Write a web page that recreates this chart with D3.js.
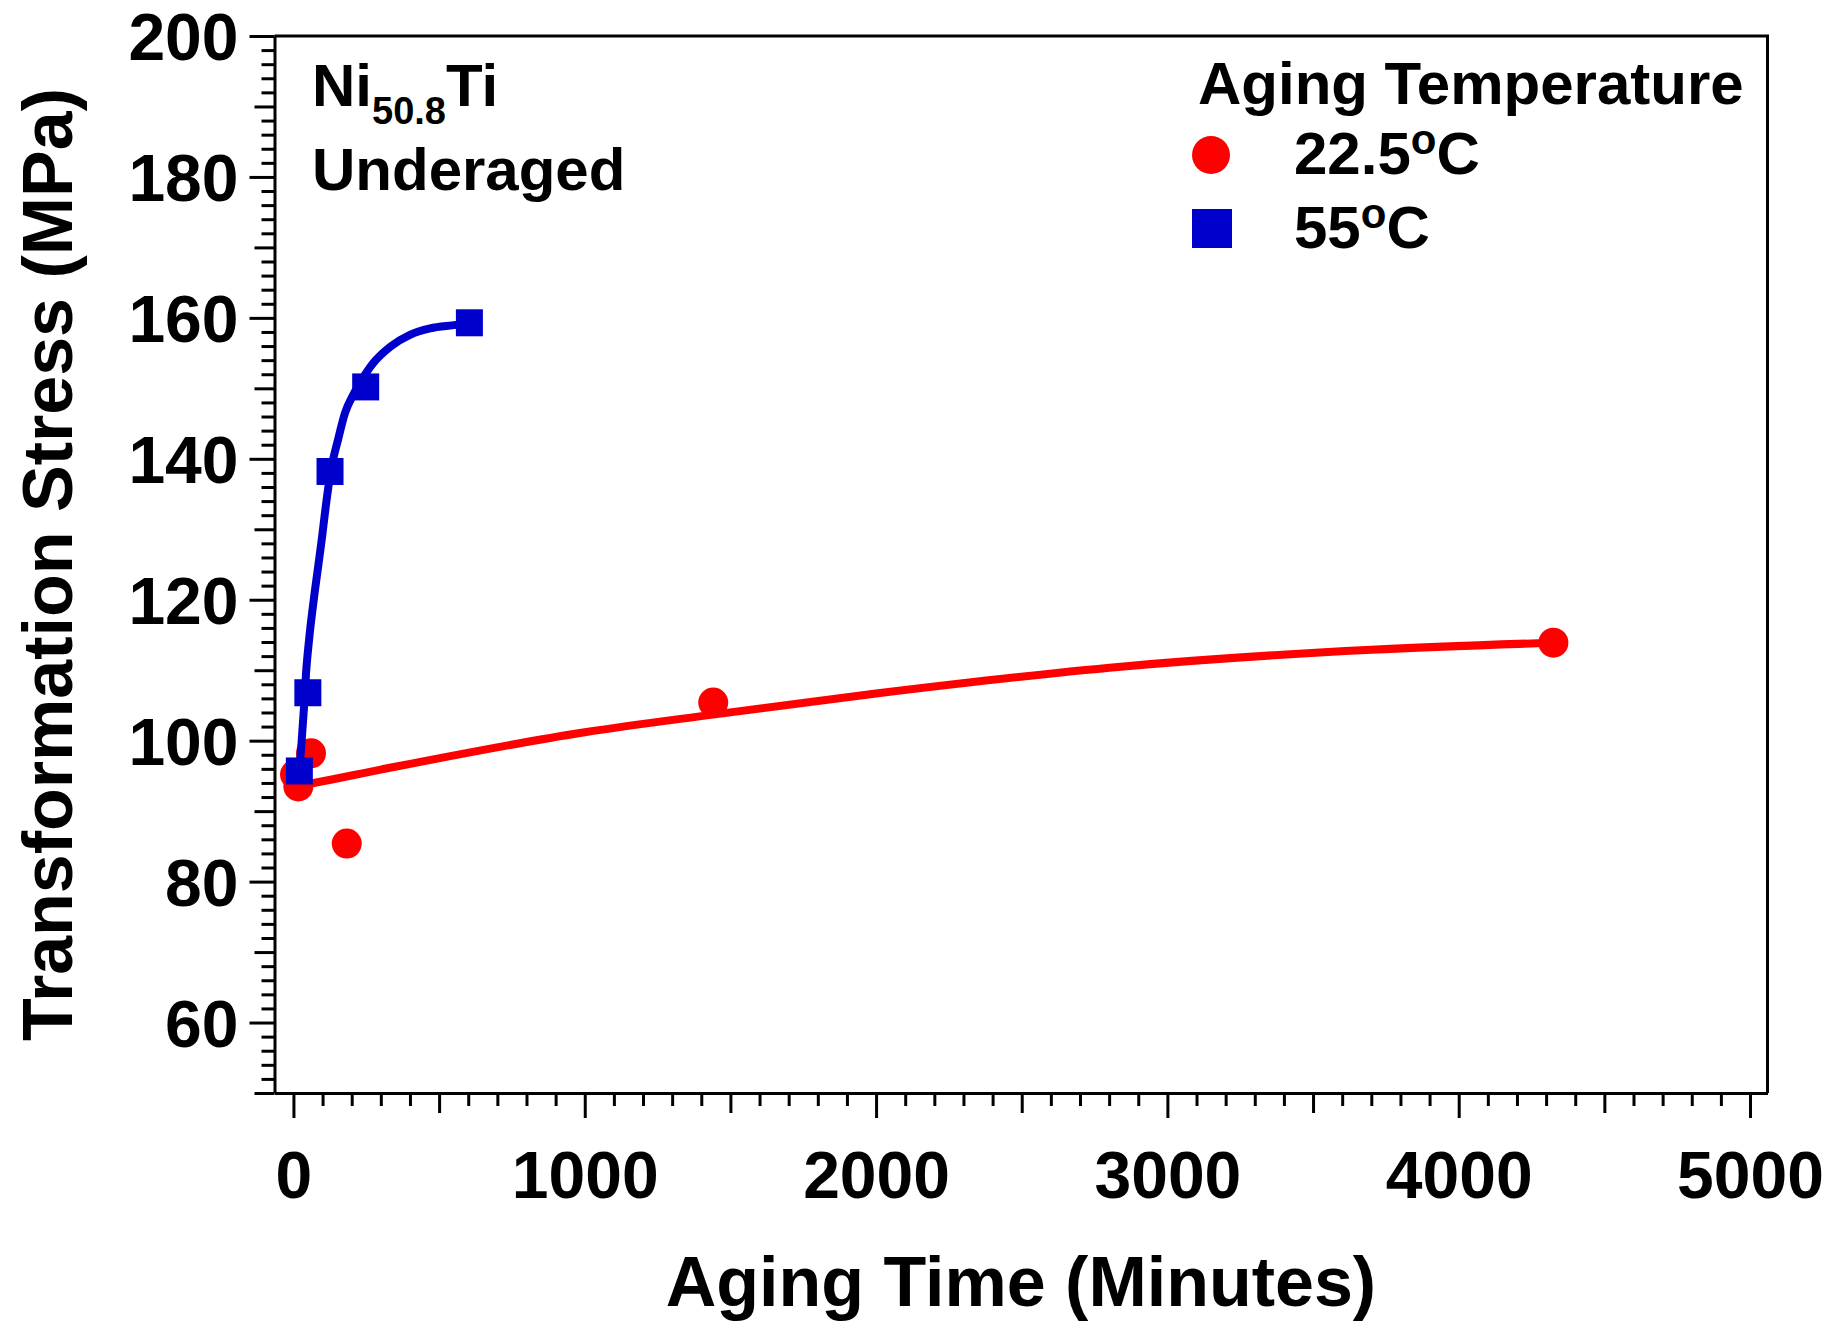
<!DOCTYPE html>
<html>
<head>
<meta charset="utf-8">
<script src="https://cdn.jsdelivr.net/npm/d3@7"></script>
<style>
  html, body { margin: 0; padding: 0; background: #fff; }
  svg { display: block; }
  text { font-family: "Liberation Sans", Arial, Helvetica, sans-serif; font-weight: bold; fill: #000; }
</style>
</head>
<body>
<svg id="chart" width="1843" height="1326"></svg>
<script>
// ---------- data ----------
const redTime   = [5.5, 16.8, 60.4, 183, 1441, 4325];
const redStress = [95.2, 93.5, 98.2, 85.4, 105.4, 113.9];

const blueTime   = [20.3, 49.5, 125.6, 248, 604];
const blueStress = [95.7, 106.8, 138.2, 150.2, 159.3];

// fitted curves
const redFitTime   = [16, 70, 300, 1000, 1440, 2000, 2840, 3700, 4325];
const redFitStress = [93.6, 94.0, 95.9, 101.2, 103.7, 106.7, 110.5, 112.9, 113.9];

const blueFitTime   = [20.3, 28.5, 36.4, 43.3, 53.6, 74.1, 97.1, 110.8, 128, 153, 177, 205.6, 234.5, 274, 332, 400, 469, 558, 604];
const blueFitStress = [95.7, 100.1, 104.8, 109.6, 114.3, 121.4, 128.5, 133.2, 138.2, 142.7, 146.5, 149.1, 151.2, 153.6, 155.9, 157.6, 158.5, 159.0, 159.3];

const xMajorTicks = [0, 1000, 2000, 3000, 4000, 5000];
const yMajorTicks = [60, 80, 100, 120, 140, 160, 180, 200];

const legendLabels = ["22.5", "55"];
const legendTitle = "Aging Temperature";
const xTitle = "Aging Time (Minutes)";
const yTitle = "Transformation Stress (MPa)";

// ---------- layout ----------
const svg = d3.select("#chart");
const L = 274.5, R = 1767.5, T = 36, B = 1093;

const x = d3.scaleLinear().domain([-65, 5060]).range([L, R]);
const y = d3.scaleLinear().domain([50, 200]).range([B, T]);

const RED = "#ff0000", BLUE = "#0000cc";

// minor / medium ticks
const xMinor = d3.range(0, 5001, 100).filter(v => v % 500 !== 0);
const xMed = d3.range(500, 5000, 1000);
const yMinor = d3.range(50, 201, 2).filter(v => v % 10 !== 0);
const yMed = d3.range(50, 201, 10).filter(v => v % 20 !== 0);

function styleAxis(g) {
  g.selectAll("path.domain").attr("stroke", "#000").attr("stroke-width", 3);
  g.selectAll(".tick line").attr("stroke", "#000").attr("stroke-width", 3);
  g.selectAll(".tick text").attr("font-size", 66);
}

// x axis
const gxMinor = svg.append("g").attr("transform", `translate(0,${B})`)
  .call(d3.axisBottom(x).tickValues(xMinor).tickSize(13).tickSizeOuter(0).tickFormat(""));
gxMinor.select("path.domain").remove();
styleAxis(gxMinor);
const gxMed = svg.append("g").attr("transform", `translate(0,${B})`)
  .call(d3.axisBottom(x).tickValues(xMed).tickSize(20).tickSizeOuter(0).tickFormat(""));
gxMed.select("path.domain").remove();
styleAxis(gxMed);
const gx = svg.append("g").attr("transform", `translate(0,${B})`)
  .call(d3.axisBottom(x).tickValues(xMajorTicks).tickSize(25).tickSizeOuter(0).tickPadding(33).tickFormat(d3.format("d")));
styleAxis(gx);

// y axis
const gyMinor = svg.append("g").attr("transform", `translate(${L},0)`)
  .call(d3.axisLeft(y).tickValues(yMinor).tickSize(13).tickSizeOuter(0).tickFormat(""));
gyMinor.select("path.domain").remove();
styleAxis(gyMinor);
const gyMed = svg.append("g").attr("transform", `translate(${L},0)`)
  .call(d3.axisLeft(y).tickValues(yMed).tickSize(20).tickSizeOuter(0).tickFormat(""));
gyMed.select("path.domain").remove();
styleAxis(gyMed);
const gy = svg.append("g").attr("transform", `translate(${L},0)`)
  .call(d3.axisLeft(y).tickValues(yMajorTicks).tickSize(25).tickSizeOuter(0).tickPadding(11).tickFormat(d3.format("d")));
styleAxis(gy);
gy.selectAll(".tick text").attr("dy", "0.36em");

// frame top & right
svg.append("path")
  .attr("d", `M${L},${T}H${R}V${B}`)
  .attr("fill", "none").attr("stroke", "#000").attr("stroke-width", 3);

// ---------- curves & points ----------
const line = d3.line().x(d => x(d[0])).y(d => y(d[1])).curve(d3.curveMonotoneX);

svg.append("path")
  .datum(redFitTime.map((t, i) => [t, redFitStress[i]]))
  .attr("d", line).attr("fill", "none").attr("stroke", RED)
  .attr("stroke-width", 8).attr("stroke-linejoin", "round").attr("stroke-linecap", "round");

svg.append("g").selectAll("circle")
  .data(redTime.map((t, i) => [t, redStress[i]]))
  .join("circle")
  .attr("cx", d => x(d[0])).attr("cy", d => y(d[1])).attr("r", 15).attr("fill", RED);

svg.append("path")
  .datum(blueFitTime.map((t, i) => [t, blueFitStress[i]]))
  .attr("d", line).attr("fill", "none").attr("stroke", BLUE)
  .attr("stroke-width", 8).attr("stroke-linejoin", "round").attr("stroke-linecap", "round");

const sq = 27;
svg.append("g").selectAll("rect")
  .data(blueTime.map((t, i) => [t, blueStress[i]]))
  .join("rect")
  .attr("x", d => x(d[0]) - sq / 2).attr("y", d => y(d[1]) - sq / 2)
  .attr("width", sq).attr("height", sq).attr("fill", BLUE);

// ---------- titles ----------
svg.append("text").attr("x", (L + R) / 2).attr("y", 1306)
  .attr("text-anchor", "middle").attr("font-size", 70).text(xTitle);

svg.append("text")
  .attr("transform", `translate(72,${(T + B) / 2}) rotate(-90)`)
  .attr("text-anchor", "middle").attr("font-size", 70).text(yTitle);

// annotation
const ann = svg.append("text").attr("x", 312).attr("y", 106).attr("font-size", 60);
ann.append("tspan").text("Ni");
ann.append("tspan").attr("font-size", 38).attr("dy", 18).text("50.8");
ann.append("tspan").attr("dy", -18).text("Ti");
svg.append("text").attr("x", 312).attr("y", 190).attr("font-size", 60).text("Underaged");

// ---------- legend ----------
svg.append("text").attr("x", 1198).attr("y", 104).attr("font-size", 60).text(legendTitle);

function degLabel(yy, lbl) {
  const t = svg.append("text").attr("x", 1294).attr("y", yy).attr("font-size", 60);
  t.append("tspan").text(lbl);
  t.append("tspan").attr("font-size", 42).attr("dy", -20).text("o");
  t.append("tspan").attr("dy", 20).text("C");
}
svg.append("circle").attr("cx", 1211).attr("cy", 155).attr("r", 19).attr("fill", RED);
degLabel(174, legendLabels[0]);
svg.append("rect").attr("x", 1192).attr("y", 209).attr("width", 40).attr("height", 39).attr("fill", BLUE);
degLabel(248, legendLabels[1]);
</script>
</body>
</html>
